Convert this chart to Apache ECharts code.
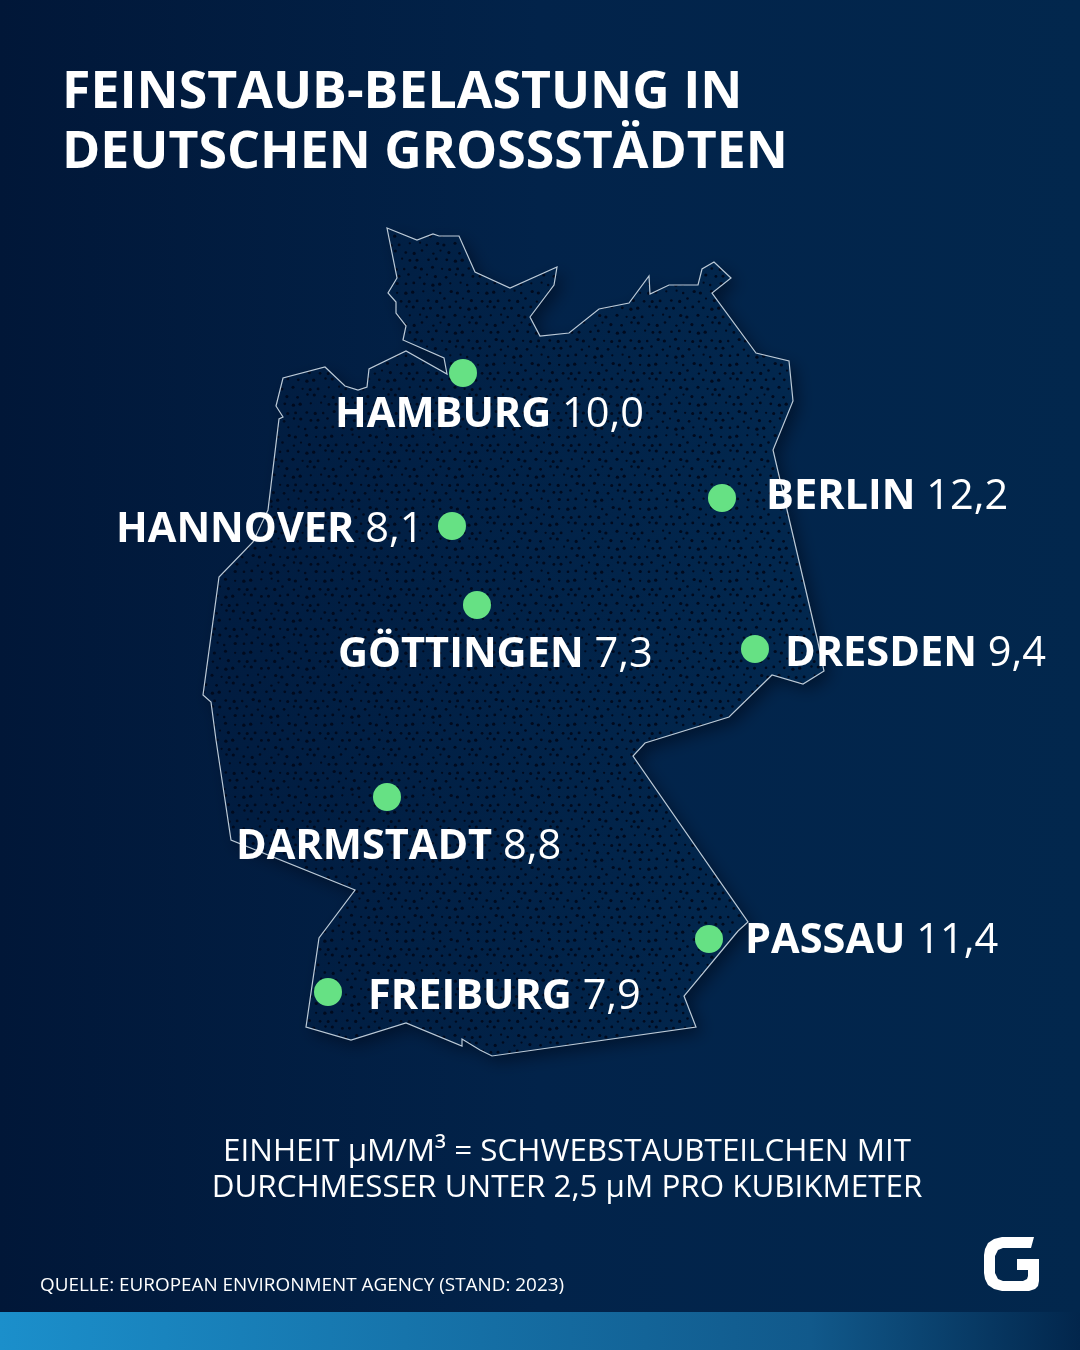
<!DOCTYPE html>
<html>
<head>
<meta charset="utf-8">
<style>html,body{margin:0;padding:0;background:#02234a}#chart{width:1080px;height:1350px}</style>
<script src="https://cdn.jsdelivr.net/npm/echarts@6/dist/echarts.min.js"></script>
</head>
<body>
<div id="chart"></div>
<script>
// data
const cities = ['HAMBURG', 'BERLIN', 'HANNOVER', 'GÖTTINGEN', 'DRESDEN', 'DARMSTADT', 'PASSAU', 'FREIBURG'];
const values = ['10,0', '12,2', '8,1', '7,3', '9,4', '8,8', '11,4', '7,9'];
const cityX = [463, 722, 452, 477, 755, 387, 709, 328];
const cityY = [373, 498, 526, 605, 649, 797, 939, 992];
const borderX = [387,417,433,439,459,475,510,557,554,530,540,569,599,629,649,650,669,698,702,714,731,712,756,789,793,773,817,824,803,772,729,645,633,748,738,684,696,492,480,462,462,406,351,306,319,355,231,222,216,211,203,219,253,268,279,283,276,283,325,345,358,367,369,406,447,444,403,406,396,396,388,397];
const borderY = [228,240,234,236,236,272,288,267,285,317,336,333,309,303,276,294,285,285,269,262,278,293,353,361,401,450,638,671,684,675,717,743,756,922,931,996,1027,1056,1050,1039,1046,1023,1040,1027,938,890,840,780,740,702,695,577,542,510,419,417,406,378,367,386,390,387,369,351,374,358,340,326,313,302,293,278];
const titleText = 'FEINSTAUB-BELASTUNG IN\nDEUTSCHEN GROSSSTÄDTEN';
const noteText = 'EINHEIT µM/M³ = SCHWEBSTAUBTEILCHEN MIT\nDURCHMESSER UNTER 2,5 µM PRO KUBIKMETER';
const sourceText = 'QUELLE: EUROPEAN ENVIRONMENT AGENCY (STAND: 2023)';

// label anchors relative to each dot, same order as cities
const labelPos = [
  [-114, 35], [58, -8], [-322, -3], [-125, 43], [44, -2], [-137, 43], [50, -5], [54, -2]
];

// stipple tile for the map fill
function stipple() {
  const c = document.createElement('canvas');
  c.width = 81; c.height = 72;
  const g = c.getContext('2d');
  const jit = [0.9,-1.3,0.3,1.6,-0.8,1.2,-1.6,0.5,1.1,-0.3,-1.4,0.8,0.2,-1,1.4,-0.5,-1.1,0.6,1.5,-0.7,0.4,-1.5,1,-0.2,1.3];
  let n = 0;
  g.fillStyle = '#000a1e';
  for (let row = 0; row < 9; row++) {
    for (let col = 0; col < 9; col++) {
      const x = col * 9 + (row % 2 ? 4.5 : 0) + jit[n % 25];
      const y = row * 8 + 4 + jit[(n * 7 + 5) % 25];
      const r = 1.05 + Math.abs(jit[(n * 3 + 3) % 25]) * 0.38;
      // draw wrapped so the tile has no seams
      [[0,0],[81,0],[-81,0],[0,72],[0,-72]].forEach(o => {
        g.beginPath();
        g.arc(x + o[0], y + o[1], r, 0, Math.PI * 2);
        g.fill();
      });
      n++;
    }
  }
  return c;
}

const myChart = echarts.init(document.getElementById('chart'), null, {renderer: 'canvas'});
const FONT = '"Open Sans"';

const option = {
  animation: false,
  backgroundColor: new echarts.graphic.LinearGradient(0, 0, 1, 0, [
    {offset: 0, color: '#011738'},
    {offset: 0.5, color: '#02234a'},
    {offset: 1, color: '#02274d'}
  ]),
  title: [
    {
      text: titleText, left: 62, top: 63, padding: 0,
      textStyle: {color: '#fff', fontFamily: FONT, fontWeight: 700, fontSize: 51.8, lineHeight: 60}
    },
    {
      text: noteText, left: 567, top: 1134, padding: 0, textAlign: 'center',
      textStyle: {color: '#fff', fontFamily: FONT, fontWeight: 400, fontSize: 31.4, lineHeight: 36, align: 'center'}
    },
    {
      text: sourceText, left: 40, top: 1276, padding: 0,
      textStyle: {color: '#fff', fontFamily: FONT, fontWeight: 400, fontSize: 18.9}
    }
  ],
  grid: {left: 0, top: 0, width: 1080, height: 1350},
  xAxis: {type: 'value', min: 0, max: 1080, show: false},
  yAxis: {type: 'value', min: 0, max: 1350, inverse: true, show: false},
  series: [
    {
      type: 'custom',
      coordinateSystem: 'cartesian2d',
      silent: true,
      z: 1,
      data: [0],
      encode: {x: [], y: []},
      renderItem: function (params, api) {
        const pts = borderX.map((x, i) => api.coord([x, borderY[i]]));
        return {
          type: 'group',
          children: [
            {
              type: 'polygon',
              shape: {points: pts},
              style: {
                fill: new echarts.graphic.LinearGradient(203, 0, 824, 0, [
                  {offset: 0, color: '#011c40'},
                  {offset: 1, color: '#02284f'}
                ], true),
                shadowBlur: 16, shadowColor: 'rgba(0,8,24,0.55)', shadowOffsetX: 6, shadowOffsetY: 6
              }
            },
            {
              type: 'polygon',
              shape: {points: pts},
              style: {fill: {image: stipple(), repeat: 'repeat'}, stroke: '#bccad7', lineWidth: 1.2}
            }
          ]
        };
      }
    },
    {
      type: 'scatter',
      z: 3,
      symbolSize: 28,
      itemStyle: {color: '#66e184', opacity: 1},
      data: cityX.map((x, i) => ({
        value: [x, cityY[i]],
        label: {
          show: true, position: labelPos[i],
          formatter: '{n|' + cities[i] + '}{v| ' + values[i] + '}',
          rich: {
            n: {color: '#fff', fontFamily: FONT, fontWeight: 700, fontSize: 41.5},
            v: {color: '#fff', fontFamily: FONT, fontWeight: 400, fontSize: 41.5}
          }
        }
      }))
    }
  ],
  graphic: [
    {
      type: 'rect', silent: true, z: 5,
      shape: {x: 0, y: 1312, width: 1080, height: 38},
      style: {fill: new echarts.graphic.LinearGradient(0, 0, 1, 0, [
        {offset: 0, color: '#1b8fcb'},
        {offset: 0.75, color: '#11598b'},
        {offset: 1, color: '#02264c'}
      ])}
    },
    {
      type: 'polygon', silent: true, z: 5,
      shape: {points: [[1034,1237],[1002,1237],[994,1239],[988,1243],[985,1249],[984,1255],[984,1273],[985,1279],[988,1285],[994,1289],[1002,1291],[1029,1291],[1035,1289],[1038,1286],[1039,1281],[1039,1259],[1017,1259],[1017,1270],[1028,1270],[1028,1276],[1027,1279],[1023,1281],[1003,1281],[998,1279],[995,1273],[995,1256],[998,1250],[1003,1248],[1031,1248]]},
      style: {fill: '#fff'}
    }
  ]
};
myChart.setOption(option);
</script>
</body>
</html>
